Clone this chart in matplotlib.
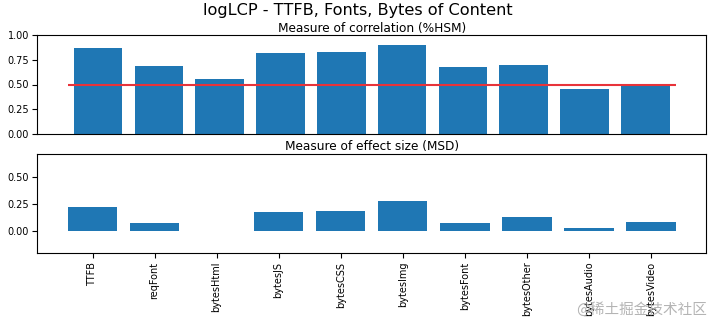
import matplotlib
matplotlib.use("Agg")
import matplotlib.pyplot as plt

# values
labels = ["TTFB", "reqFont", "bytesHtml", "bytesJS", "bytesCSS",
          "bytesImg", "bytesFont", "bytesOther", "bytesAudio", "bytesVideo"]
hsm = [0.872, 0.682, 0.551, 0.814, 0.824, 0.895, 0.672, 0.693, 0.459, 0.497]
msd = [0.225, 0.075, 0.0, 0.178, 0.187, 0.272, 0.075, 0.131, 0.028, 0.084]
threshold = 0.5

W, H = 716, 323
fig = plt.figure(figsize=(W / 100, H / 100), dpi=100)

# axes boxes in pixels (left, top, right, bottom)
def box(l, t, r, b):
    return [l / W, 1 - b / H, (r - l) / W, (b - t) / H]

ax1 = fig.add_axes(box(37.3, 35, 706, 134))
ax2 = fig.add_axes(box(37.3, 154.3, 706, 253.3))

x = range(len(labels))

# top: correlation with 50% threshold line
ax1.bar(x, hsm, color="#1f77b4")
ax1.hlines(threshold, -0.5, len(labels) - 0.5, color="#e8333a", linewidth=1.5)
ax1.set_ylim(0, 1)
ax1.set_yticks([0.0, 0.25, 0.5, 0.75, 1.0])
ax1.set_xticks([])
ax1.set_title("Measure of correlation (%HSM)", fontsize=8.7, pad=1)

# bottom: effect size
ax2.bar(x, msd, color="#1f77b4")
ax2.set_ylim(-0.205, 0.705)
ax2.set_yticks([0.0, 0.25, 0.5])
ax2.set_xticks(list(x))
ax2.set_xticklabels(labels, rotation=90)
ax2.set_title("Measure of effect size (MSD)", fontsize=8.7, pad=3)

for ax in (ax1, ax2):
    ax.tick_params(labelsize=7, length=3.5, pad=2.5)

fig.suptitle("logLCP - TTFB, Fonts, Bytes of Content", fontsize=11.6, y=0.99)

fig.text(0.988, 0.02, "@稀土掘金技术社区", ha="right", va="bottom", fontsize=10.5,
         color="#b4b4b4", family=["Noto Sans CJK SC", "DejaVu Sans"])

fig.savefig("out.png", dpi=100)
